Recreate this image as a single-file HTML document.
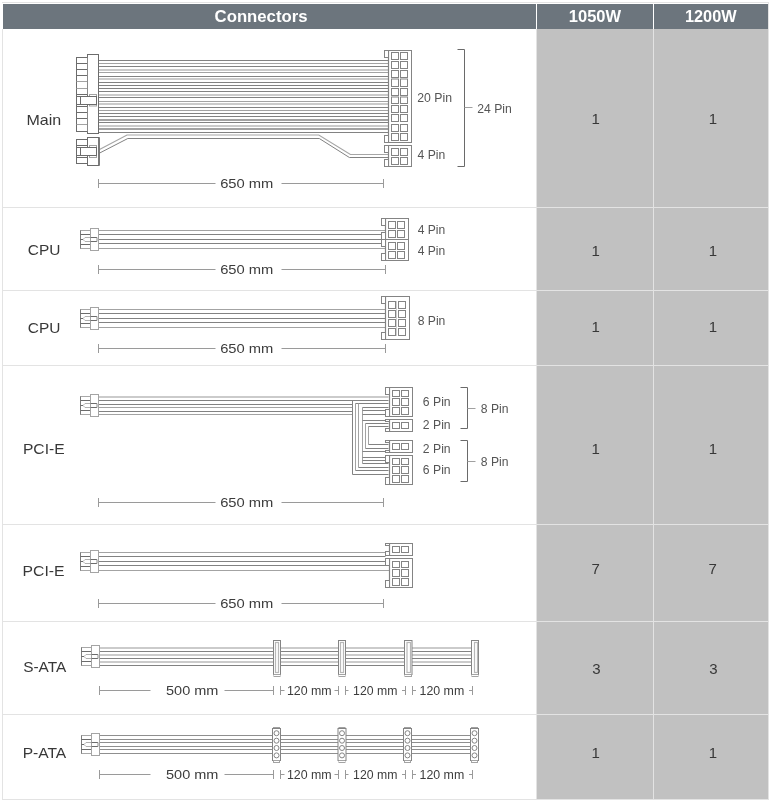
<!DOCTYPE html>
<html><head><meta charset="utf-8"><style>
html,body{margin:0;padding:0;background:#fff;}
svg{display:block;font-family:"Liberation Sans",sans-serif;will-change:transform;}
</style></head><body>
<svg width="772" height="804" viewBox="0 0 772 804">
<rect x="0" y="0" width="772" height="804" fill="#ffffff"/>
<rect x="3" y="4" width="533" height="25" fill="#6c757d"/>
<rect x="537" y="4" width="116" height="25" fill="#6c757d"/>
<rect x="654" y="4" width="114" height="25" fill="#6c757d"/>
<rect x="537" y="29" width="116" height="770" fill="#c1c1c1"/>
<rect x="654" y="29" width="114" height="770" fill="#c1c1c1"/>
<rect x="2" y="2" width="767" height="1" fill="#e3e3e3"/>
<rect x="2" y="207" width="767" height="1" fill="#e3e3e3"/>
<rect x="2" y="290" width="767" height="1" fill="#e3e3e3"/>
<rect x="2" y="365" width="767" height="1" fill="#e3e3e3"/>
<rect x="2" y="524" width="767" height="1" fill="#e3e3e3"/>
<rect x="2" y="621" width="767" height="1" fill="#e3e3e3"/>
<rect x="2" y="714" width="767" height="1" fill="#e3e3e3"/>
<rect x="2" y="799" width="767" height="1" fill="#e3e3e3"/>
<rect x="2" y="29" width="1" height="771" fill="#e3e3e3"/>
<rect x="536" y="29" width="1" height="771" fill="#e3e3e3"/>
<rect x="653" y="29" width="1" height="771" fill="#e3e3e3"/>
<rect x="768" y="2" width="1" height="798" fill="#e3e3e3"/>
<text x="214.62" y="21.5" font-size="16" fill="#ffffff" font-weight="bold" textLength="92.86" lengthAdjust="spacingAndGlyphs">Connectors</text>
<text x="568.87" y="21.5" font-size="16" fill="#ffffff" font-weight="bold" textLength="52.23" lengthAdjust="spacingAndGlyphs">1050W</text>
<text x="684.98" y="21.5" font-size="16" fill="#ffffff" font-weight="bold" textLength="51.61" lengthAdjust="spacingAndGlyphs">1200W</text>
<text x="26.52" y="124.8" font-size="15" fill="#383838" textLength="34.71" lengthAdjust="spacingAndGlyphs">Main</text>
<text x="27.83" y="254.8" font-size="15" fill="#383838" textLength="32.63" lengthAdjust="spacingAndGlyphs">CPU</text>
<text x="27.83" y="332.8" font-size="15" fill="#383838" textLength="32.63" lengthAdjust="spacingAndGlyphs">CPU</text>
<text x="22.95" y="453.8" font-size="15" fill="#383838" textLength="41.68" lengthAdjust="spacingAndGlyphs">PCI-E</text>
<text x="22.64" y="575.8" font-size="15" fill="#383838" textLength="41.99" lengthAdjust="spacingAndGlyphs">PCI-E</text>
<text x="23.23" y="671.8" font-size="15" fill="#383838" textLength="43.06" lengthAdjust="spacingAndGlyphs">S-ATA</text>
<text x="22.65" y="758" font-size="15" fill="#383838" textLength="43.64" lengthAdjust="spacingAndGlyphs">P-ATA</text>
<text x="591.38" y="124.1" font-size="15" fill="#383838">1</text>
<text x="708.67" y="124.1" font-size="15" fill="#383838">1</text>
<text x="591.38" y="255.8" font-size="15" fill="#383838">1</text>
<text x="708.67" y="255.8" font-size="15" fill="#383838">1</text>
<text x="591.38" y="332.1" font-size="15" fill="#383838">1</text>
<text x="708.67" y="332.1" font-size="15" fill="#383838">1</text>
<text x="591.38" y="453.6" font-size="15" fill="#383838">1</text>
<text x="708.67" y="453.6" font-size="15" fill="#383838">1</text>
<text x="591.42" y="574.1" font-size="15" fill="#383838">7</text>
<text x="708.42" y="574.1" font-size="15" fill="#383838">7</text>
<text x="592.27" y="673.6" font-size="15" fill="#383838">3</text>
<text x="709.28" y="673.6" font-size="15" fill="#383838">3</text>
<text x="591.38" y="757.6" font-size="15" fill="#383838">1</text>
<text x="708.67" y="757.6" font-size="15" fill="#383838">1</text>
<line x1="98.5" y1="60.5" x2="388.5" y2="60.5" stroke="#828282" stroke-width="1"/>
<line x1="98.5" y1="63.5" x2="388.5" y2="63.5" stroke="#a3a3a3" stroke-width="1"/>
<line x1="98.5" y1="66.5" x2="388.5" y2="66.5" stroke="#828282" stroke-width="1"/>
<line x1="98.5" y1="70" x2="388.5" y2="70" stroke="#cbcbcb" stroke-width="2"/>
<line x1="98.5" y1="72.5" x2="388.5" y2="72.5" stroke="#a3a3a3" stroke-width="1"/>
<line x1="98.5" y1="76.5" x2="388.5" y2="76.5" stroke="#828282" stroke-width="1"/>
<line x1="98.5" y1="79" x2="388.5" y2="79" stroke="#cbcbcb" stroke-width="2"/>
<line x1="98.5" y1="82.5" x2="388.5" y2="82.5" stroke="#828282" stroke-width="1"/>
<line x1="98.5" y1="85.5" x2="388.5" y2="85.5" stroke="#828282" stroke-width="1"/>
<line x1="98.5" y1="88.5" x2="388.5" y2="88.5" stroke="#828282" stroke-width="1"/>
<line x1="98.5" y1="91.5" x2="388.5" y2="91.5" stroke="#828282" stroke-width="1"/>
<line x1="98.5" y1="95" x2="388.5" y2="95" stroke="#cbcbcb" stroke-width="2"/>
<line x1="98.5" y1="97.5" x2="388.5" y2="97.5" stroke="#828282" stroke-width="1"/>
<line x1="98.5" y1="101.5" x2="388.5" y2="101.5" stroke="#a3a3a3" stroke-width="1"/>
<line x1="98.5" y1="104" x2="388.5" y2="104" stroke="#cbcbcb" stroke-width="2"/>
<line x1="98.5" y1="107.5" x2="388.5" y2="107.5" stroke="#828282" stroke-width="1"/>
<line x1="98.5" y1="110.5" x2="388.5" y2="110.5" stroke="#a3a3a3" stroke-width="1"/>
<line x1="98.5" y1="113.5" x2="388.5" y2="113.5" stroke="#828282" stroke-width="1"/>
<line x1="98.5" y1="116.5" x2="388.5" y2="116.5" stroke="#828282" stroke-width="1"/>
<line x1="98.5" y1="120" x2="388.5" y2="120" stroke="#a3a3a3" stroke-width="2"/>
<line x1="98.5" y1="122.5" x2="388.5" y2="122.5" stroke="#828282" stroke-width="1"/>
<line x1="98.5" y1="126" x2="388.5" y2="126" stroke="#cbcbcb" stroke-width="2"/>
<line x1="98.5" y1="129" x2="388.5" y2="129" stroke="#a3a3a3" stroke-width="2"/>
<line x1="98.5" y1="132.5" x2="388.5" y2="132.5" stroke="#828282" stroke-width="1"/>
<polyline points="99.5,149.5 127,135 318.8,135 350.4,154.5 388.5,154.5" fill="none" stroke="#a6a6a6" stroke-width="1.2"/>
<polyline points="99.5,153.1 127.8,138.5 319.3,138.5 349.4,157.5 388.5,157.5" fill="none" stroke="#828282" stroke-width="1"/>
<rect x="76.5" y="57.5" width="11" height="74" fill="#ffffff" stroke="#6c6c6c" stroke-width="1"/>
<line x1="76.5" y1="63.5" x2="87.5" y2="63.5" stroke="#6c6c6c" stroke-width="1"/>
<line x1="76.5" y1="69.5" x2="87.5" y2="69.5" stroke="#6c6c6c" stroke-width="1"/>
<line x1="76.5" y1="75.5" x2="87.5" y2="75.5" stroke="#6c6c6c" stroke-width="1"/>
<line x1="76.5" y1="81.5" x2="87.5" y2="81.5" stroke="#a3a3a3" stroke-width="1"/>
<line x1="76.5" y1="88.5" x2="87.5" y2="88.5" stroke="#a3a3a3" stroke-width="1"/>
<line x1="76.5" y1="94.5" x2="87.5" y2="94.5" stroke="#6c6c6c" stroke-width="1"/>
<line x1="76.5" y1="106.5" x2="87.5" y2="106.5" stroke="#6c6c6c" stroke-width="1"/>
<line x1="76.5" y1="112.5" x2="87.5" y2="112.5" stroke="#6c6c6c" stroke-width="1"/>
<line x1="76.5" y1="118.5" x2="87.5" y2="118.5" stroke="#6c6c6c" stroke-width="1"/>
<line x1="76.5" y1="124.5" x2="87.5" y2="124.5" stroke="#a3a3a3" stroke-width="1"/>
<rect x="87.5" y="54.5" width="11" height="79" fill="#ffffff" stroke="#6c6c6c" stroke-width="1"/>
<rect x="89.5" y="94.5" width="7" height="2" fill="#ffffff" stroke="#a3a3a3" stroke-width="1"/>
<rect x="89.5" y="104.5" width="7" height="1.5" fill="#ffffff" stroke="#a3a3a3" stroke-width="1"/>
<rect x="76.5" y="96.5" width="20" height="8" fill="#ffffff" stroke="#6c6c6c" stroke-width="1"/>
<line x1="80.5" y1="96.5" x2="80.5" y2="104.5" stroke="#6c6c6c" stroke-width="1"/>
<line x1="87.5" y1="57.5" x2="87.5" y2="94.5" stroke="#8a8a8a" stroke-width="1"/>
<line x1="87.5" y1="106.5" x2="87.5" y2="131.5" stroke="#8a8a8a" stroke-width="1"/>
<rect x="76.5" y="139.5" width="11" height="24" fill="#ffffff" stroke="#6c6c6c" stroke-width="1"/>
<line x1="76.5" y1="145.5" x2="87.5" y2="145.5" stroke="#6c6c6c" stroke-width="1"/>
<line x1="76.5" y1="157.5" x2="87.5" y2="157.5" stroke="#6c6c6c" stroke-width="1"/>
<rect x="87.5" y="137.5" width="11.5" height="28" fill="#ffffff" stroke="#6c6c6c" stroke-width="1"/>
<line x1="99" y1="137.5" x2="99" y2="165.5" stroke="#6c6c6c" stroke-width="1.6"/>
<rect x="89.5" y="145.5" width="7" height="2" fill="#ffffff" stroke="#a3a3a3" stroke-width="1"/>
<rect x="89.5" y="155.5" width="7" height="2" fill="#ffffff" stroke="#a3a3a3" stroke-width="1"/>
<rect x="76.5" y="147.5" width="20" height="8" fill="#ffffff" stroke="#6c6c6c" stroke-width="1"/>
<line x1="80.5" y1="147.5" x2="80.5" y2="155.5" stroke="#6c6c6c" stroke-width="1"/>
<rect x="388.5" y="50.5" width="23" height="92" fill="#ffffff" stroke="#848484" stroke-width="1"/>
<line x1="388.5" y1="50.5" x2="388.5" y2="142.5" stroke="#828282" stroke-width="1.2"/>
<rect x="384.5" y="50.5" width="4" height="7" fill="#ffffff" stroke="#848484" stroke-width="1"/>
<rect x="384.5" y="135.5" width="4" height="7" fill="#ffffff" stroke="#848484" stroke-width="1"/>
<rect x="391.5" y="52.5" width="7" height="7" fill="none" stroke="#848484" stroke-width="1"/>
<rect x="391.5" y="61.5" width="7" height="7" fill="none" stroke="#848484" stroke-width="1"/>
<rect x="391.5" y="70.5" width="7" height="7" fill="none" stroke="#848484" stroke-width="1"/>
<rect x="391.5" y="79" width="7" height="7.5" fill="none" stroke="#848484" stroke-width="1"/>
<rect x="391.5" y="88.5" width="7" height="7" fill="none" stroke="#848484" stroke-width="1"/>
<rect x="391.5" y="97" width="7" height="6.5" fill="none" stroke="#848484" stroke-width="1"/>
<rect x="391.5" y="105.5" width="7" height="7" fill="none" stroke="#848484" stroke-width="1"/>
<rect x="391.5" y="114.5" width="7" height="7" fill="none" stroke="#848484" stroke-width="1"/>
<rect x="391.5" y="124.5" width="7" height="7" fill="none" stroke="#848484" stroke-width="1"/>
<rect x="391.5" y="133.5" width="7" height="7" fill="none" stroke="#848484" stroke-width="1"/>
<rect x="400.5" y="52.5" width="7" height="7" fill="none" stroke="#848484" stroke-width="1"/>
<rect x="400.5" y="61.5" width="7" height="7" fill="none" stroke="#848484" stroke-width="1"/>
<rect x="400.5" y="70.5" width="7" height="7" fill="none" stroke="#848484" stroke-width="1"/>
<rect x="400.5" y="79" width="7" height="7.5" fill="none" stroke="#848484" stroke-width="1"/>
<rect x="400.5" y="88.5" width="7" height="7" fill="none" stroke="#848484" stroke-width="1"/>
<rect x="400.5" y="97" width="7" height="6.5" fill="none" stroke="#848484" stroke-width="1"/>
<rect x="400.5" y="105.5" width="7" height="7" fill="none" stroke="#848484" stroke-width="1"/>
<rect x="400.5" y="114.5" width="7" height="7" fill="none" stroke="#848484" stroke-width="1"/>
<rect x="400.5" y="124.5" width="7" height="7" fill="none" stroke="#848484" stroke-width="1"/>
<rect x="400.5" y="133.5" width="7" height="7" fill="none" stroke="#848484" stroke-width="1"/>
<rect x="388.5" y="145.5" width="23" height="21" fill="#ffffff" stroke="#848484" stroke-width="1"/>
<line x1="388.5" y1="145.5" x2="388.5" y2="166.5" stroke="#828282" stroke-width="1.2"/>
<rect x="384.5" y="145.5" width="4" height="7" fill="#ffffff" stroke="#848484" stroke-width="1"/>
<rect x="384.5" y="159.5" width="4" height="7" fill="#ffffff" stroke="#848484" stroke-width="1"/>
<rect x="391.5" y="148.5" width="7" height="7" fill="none" stroke="#848484" stroke-width="1"/>
<rect x="391.5" y="157.5" width="7" height="7" fill="none" stroke="#848484" stroke-width="1"/>
<rect x="400.5" y="148.5" width="7" height="7" fill="none" stroke="#848484" stroke-width="1"/>
<rect x="400.5" y="157.5" width="7" height="7" fill="none" stroke="#848484" stroke-width="1"/>
<text x="417.19" y="101.9" font-size="12" fill="#555555" textLength="34.81" lengthAdjust="spacingAndGlyphs">20 Pin</text>
<text x="417.55" y="158.9" font-size="12" fill="#555555" textLength="27.72" lengthAdjust="spacingAndGlyphs">4 Pin</text>
<text x="477.19" y="112.8" font-size="12" fill="#555555" textLength="34.6" lengthAdjust="spacingAndGlyphs">24 Pin</text>
<polyline points="457.5,49.5 464.5,49.5 464.5,166.5 457.5,166.5" fill="none" stroke="#6a6a6a" stroke-width="1"/>
<line x1="464.5" y1="107.5" x2="472.5" y2="107.5" stroke="#a0a0a0" stroke-width="1"/>
<line x1="98.5" y1="183.5" x2="215.5" y2="183.5" stroke="#9a9a9a" stroke-width="1"/>
<line x1="281.5" y1="183.5" x2="383.5" y2="183.5" stroke="#9a9a9a" stroke-width="1"/>
<line x1="98.5" y1="179" x2="98.5" y2="188" stroke="#9a9a9a" stroke-width="1"/>
<line x1="383.5" y1="179" x2="383.5" y2="188" stroke="#9a9a9a" stroke-width="1"/>
<text x="220.16" y="187.7" font-size="13" fill="#3c3c3c" textLength="53.25" lengthAdjust="spacingAndGlyphs">650 mm</text>
<line x1="98.5" y1="230.5" x2="385.5" y2="230.5" stroke="#a3a3a3" stroke-width="1"/>
<line x1="98.5" y1="234.5" x2="385.5" y2="234.5" stroke="#828282" stroke-width="1"/>
<line x1="98.5" y1="239.5" x2="385.5" y2="239.5" stroke="#828282" stroke-width="1"/>
<line x1="98.5" y1="243.5" x2="385.5" y2="243.5" stroke="#828282" stroke-width="1"/>
<line x1="98.5" y1="248.5" x2="385.5" y2="248.5" stroke="#a3a3a3" stroke-width="1"/>
<rect x="80.5" y="230.5" width="10" height="18" fill="#ffffff" stroke="#a8a8a8" stroke-width="1"/>
<line x1="80.5" y1="230.5" x2="80.5" y2="248.5" stroke="#7c7c7c" stroke-width="1"/>
<line x1="80.5" y1="234.5" x2="90.5" y2="234.5" stroke="#6c6c6c" stroke-width="1"/>
<line x1="80.5" y1="244.5" x2="90.5" y2="244.5" stroke="#6c6c6c" stroke-width="1"/>
<rect x="90.5" y="228.5" width="8" height="22" fill="#ffffff" stroke="#a4a4a4" stroke-width="1"/>
<polyline points="90.5,237.5 85,237.5 83,239.5 85,241.5 90.5,241.5" fill="none" stroke="#b0b0b0" stroke-width="1"/>
<line x1="90.5" y1="237.5" x2="97" y2="237.5" stroke="#6c6c6c" stroke-width="1"/>
<line x1="90.5" y1="241.5" x2="97" y2="241.5" stroke="#6c6c6c" stroke-width="1"/>
<line x1="97" y1="237.5" x2="97" y2="241.5" stroke="#a0a0a0" stroke-width="1.2"/>
<line x1="80.5" y1="239.5" x2="83" y2="239.5" stroke="#6c6c6c" stroke-width="1"/>
<rect x="385.5" y="218.5" width="23" height="42" fill="#ffffff" stroke="#848484" stroke-width="1"/>
<line x1="385.5" y1="218.5" x2="385.5" y2="260.5" stroke="#828282" stroke-width="1.2"/>
<rect x="381.5" y="218.5" width="4" height="7" fill="#ffffff" stroke="#848484" stroke-width="1"/>
<rect x="381.5" y="232.5" width="4" height="7" fill="#ffffff" stroke="#848484" stroke-width="1"/>
<rect x="381.5" y="239.5" width="4" height="7" fill="#ffffff" stroke="#848484" stroke-width="1"/>
<rect x="381.5" y="253.5" width="4" height="7" fill="#ffffff" stroke="#848484" stroke-width="1"/>
<rect x="388.5" y="221.5" width="7" height="7" fill="none" stroke="#848484" stroke-width="1"/>
<rect x="388.5" y="230.5" width="7" height="7" fill="none" stroke="#848484" stroke-width="1"/>
<rect x="388.5" y="242.5" width="7" height="7" fill="none" stroke="#848484" stroke-width="1"/>
<rect x="388.5" y="251.5" width="7" height="7" fill="none" stroke="#848484" stroke-width="1"/>
<rect x="397.5" y="221.5" width="7" height="7" fill="none" stroke="#848484" stroke-width="1"/>
<rect x="397.5" y="230.5" width="7" height="7" fill="none" stroke="#848484" stroke-width="1"/>
<rect x="397.5" y="242.5" width="7" height="7" fill="none" stroke="#848484" stroke-width="1"/>
<rect x="397.5" y="251.5" width="7" height="7" fill="none" stroke="#848484" stroke-width="1"/>
<line x1="385.5" y1="239.5" x2="408.5" y2="239.5" stroke="#848484" stroke-width="1"/>
<text x="417.65" y="234" font-size="12" fill="#555555" textLength="27.51" lengthAdjust="spacingAndGlyphs">4 Pin</text>
<text x="417.65" y="255.1" font-size="12" fill="#555555" textLength="27.51" lengthAdjust="spacingAndGlyphs">4 Pin</text>
<line x1="98.5" y1="269.5" x2="215.5" y2="269.5" stroke="#9a9a9a" stroke-width="1"/>
<line x1="281.5" y1="269.5" x2="385.5" y2="269.5" stroke="#9a9a9a" stroke-width="1"/>
<line x1="98.5" y1="265" x2="98.5" y2="274" stroke="#9a9a9a" stroke-width="1"/>
<line x1="385.5" y1="265" x2="385.5" y2="274" stroke="#9a9a9a" stroke-width="1"/>
<text x="220.16" y="273.8" font-size="13" fill="#3c3c3c" textLength="53.25" lengthAdjust="spacingAndGlyphs">650 mm</text>
<line x1="98.5" y1="309.5" x2="385.5" y2="309.5" stroke="#a3a3a3" stroke-width="1"/>
<line x1="98.5" y1="313.5" x2="385.5" y2="313.5" stroke="#828282" stroke-width="1"/>
<line x1="98.5" y1="318.5" x2="385.5" y2="318.5" stroke="#828282" stroke-width="1"/>
<line x1="98.5" y1="322.5" x2="385.5" y2="322.5" stroke="#828282" stroke-width="1"/>
<line x1="98.5" y1="327.5" x2="385.5" y2="327.5" stroke="#a3a3a3" stroke-width="1"/>
<rect x="80.5" y="309.5" width="10" height="18" fill="#ffffff" stroke="#a8a8a8" stroke-width="1"/>
<line x1="80.5" y1="309.5" x2="80.5" y2="327.5" stroke="#7c7c7c" stroke-width="1"/>
<line x1="80.5" y1="313.5" x2="90.5" y2="313.5" stroke="#6c6c6c" stroke-width="1"/>
<line x1="80.5" y1="323.5" x2="90.5" y2="323.5" stroke="#6c6c6c" stroke-width="1"/>
<rect x="90.5" y="307.5" width="8" height="22" fill="#ffffff" stroke="#a4a4a4" stroke-width="1"/>
<polyline points="90.5,316.5 85,316.5 83,318.5 85,320.5 90.5,320.5" fill="none" stroke="#b0b0b0" stroke-width="1"/>
<line x1="90.5" y1="316.5" x2="97" y2="316.5" stroke="#6c6c6c" stroke-width="1"/>
<line x1="90.5" y1="320.5" x2="97" y2="320.5" stroke="#6c6c6c" stroke-width="1"/>
<line x1="97" y1="316.5" x2="97" y2="320.5" stroke="#a0a0a0" stroke-width="1.2"/>
<line x1="80.5" y1="318.5" x2="83" y2="318.5" stroke="#6c6c6c" stroke-width="1"/>
<rect x="385.5" y="296.5" width="24" height="43" fill="#ffffff" stroke="#848484" stroke-width="1"/>
<line x1="385.5" y1="296.5" x2="385.5" y2="339.5" stroke="#828282" stroke-width="1.2"/>
<rect x="381.5" y="296.5" width="4" height="7" fill="#ffffff" stroke="#848484" stroke-width="1"/>
<rect x="381.5" y="332.5" width="4" height="7" fill="#ffffff" stroke="#848484" stroke-width="1"/>
<rect x="388.5" y="301.5" width="7" height="7" fill="none" stroke="#848484" stroke-width="1"/>
<rect x="388.5" y="310.5" width="7" height="7" fill="none" stroke="#848484" stroke-width="1"/>
<rect x="388.5" y="319.5" width="7" height="7" fill="none" stroke="#848484" stroke-width="1"/>
<rect x="388.5" y="328.5" width="7" height="7" fill="none" stroke="#848484" stroke-width="1"/>
<rect x="398.5" y="301.5" width="7" height="7" fill="none" stroke="#848484" stroke-width="1"/>
<rect x="398.5" y="310.5" width="7" height="7" fill="none" stroke="#848484" stroke-width="1"/>
<rect x="398.5" y="319.5" width="7" height="7" fill="none" stroke="#848484" stroke-width="1"/>
<rect x="398.5" y="328.5" width="7" height="7" fill="none" stroke="#848484" stroke-width="1"/>
<line x1="396.5" y1="301" x2="396.5" y2="336" stroke="#d0d0d0" stroke-width="1"/>
<text x="417.69" y="324.7" font-size="12" fill="#555555" textLength="27.67" lengthAdjust="spacingAndGlyphs">8 Pin</text>
<line x1="98.5" y1="348.5" x2="215.5" y2="348.5" stroke="#9a9a9a" stroke-width="1"/>
<line x1="281.5" y1="348.5" x2="385.5" y2="348.5" stroke="#9a9a9a" stroke-width="1"/>
<line x1="98.5" y1="344" x2="98.5" y2="353" stroke="#9a9a9a" stroke-width="1"/>
<line x1="385.5" y1="344" x2="385.5" y2="353" stroke="#9a9a9a" stroke-width="1"/>
<text x="220.16" y="352.6" font-size="13" fill="#3c3c3c" textLength="53.25" lengthAdjust="spacingAndGlyphs">650 mm</text>
<line x1="98.5" y1="397" x2="388.5" y2="397" stroke="#cbcbcb" stroke-width="2"/>
<line x1="98.5" y1="400.5" x2="388.5" y2="400.5" stroke="#828282" stroke-width="1"/>
<line x1="98.5" y1="404.5" x2="352.5" y2="404.5" stroke="#828282" stroke-width="1"/>
<line x1="98.5" y1="407.5" x2="352.5" y2="407.5" stroke="#a3a3a3" stroke-width="1"/>
<line x1="98.5" y1="411.5" x2="352.5" y2="411.5" stroke="#828282" stroke-width="1"/>
<line x1="98.5" y1="414.5" x2="352.5" y2="414.5" stroke="#a3a3a3" stroke-width="1"/>
<rect x="80.5" y="396.5" width="10" height="18" fill="#ffffff" stroke="#a8a8a8" stroke-width="1"/>
<line x1="80.5" y1="396.5" x2="80.5" y2="414.5" stroke="#7c7c7c" stroke-width="1"/>
<line x1="80.5" y1="400.5" x2="90.5" y2="400.5" stroke="#6c6c6c" stroke-width="1"/>
<line x1="80.5" y1="410.5" x2="90.5" y2="410.5" stroke="#6c6c6c" stroke-width="1"/>
<rect x="90.5" y="394.5" width="8" height="22" fill="#ffffff" stroke="#a4a4a4" stroke-width="1"/>
<polyline points="90.5,403.5 85,403.5 83,405.5 85,407.5 90.5,407.5" fill="none" stroke="#b0b0b0" stroke-width="1"/>
<line x1="90.5" y1="403.5" x2="97" y2="403.5" stroke="#6c6c6c" stroke-width="1"/>
<line x1="90.5" y1="407.5" x2="97" y2="407.5" stroke="#6c6c6c" stroke-width="1"/>
<line x1="97" y1="403.5" x2="97" y2="407.5" stroke="#a0a0a0" stroke-width="1.2"/>
<line x1="80.5" y1="405.5" x2="83" y2="405.5" stroke="#6c6c6c" stroke-width="1"/>
<line x1="352.5" y1="400.5" x2="352.5" y2="474.5" stroke="#828282" stroke-width="1"/>
<line x1="352.5" y1="474.5" x2="388.5" y2="474.5" stroke="#828282" stroke-width="1"/>
<line x1="355.5" y1="403.5" x2="355.5" y2="470.5" stroke="#a3a3a3" stroke-width="1"/>
<line x1="355.5" y1="403.5" x2="388.5" y2="403.5" stroke="#828282" stroke-width="1"/>
<line x1="355.5" y1="470.5" x2="388.5" y2="470.5" stroke="#828282" stroke-width="1"/>
<line x1="358.5" y1="403.5" x2="358.5" y2="467.5" stroke="#a3a3a3" stroke-width="1"/>
<line x1="358.5" y1="467.5" x2="388.5" y2="467.5" stroke="#828282" stroke-width="1"/>
<line x1="362.5" y1="407.5" x2="362.5" y2="463.5" stroke="#a3a3a3" stroke-width="1"/>
<line x1="362.5" y1="407.5" x2="388.5" y2="407.5" stroke="#828282" stroke-width="1"/>
<line x1="362.5" y1="410.5" x2="388.5" y2="410.5" stroke="#828282" stroke-width="1"/>
<line x1="362.5" y1="414.5" x2="388.5" y2="414.5" stroke="#828282" stroke-width="1"/>
<line x1="362.5" y1="420.5" x2="388.5" y2="420.5" stroke="#828282" stroke-width="1"/>
<line x1="362.5" y1="451.5" x2="388.5" y2="451.5" stroke="#828282" stroke-width="1"/>
<line x1="362.5" y1="457.5" x2="388.5" y2="457.5" stroke="#828282" stroke-width="1"/>
<line x1="362.5" y1="460.5" x2="388.5" y2="460.5" stroke="#828282" stroke-width="1"/>
<line x1="362.5" y1="463.5" x2="388.5" y2="463.5" stroke="#828282" stroke-width="1"/>
<line x1="365.5" y1="423.5" x2="365.5" y2="448.5" stroke="#a3a3a3" stroke-width="1"/>
<line x1="365.5" y1="423.5" x2="388.5" y2="423.5" stroke="#828282" stroke-width="1"/>
<line x1="365.5" y1="448.5" x2="388.5" y2="448.5" stroke="#828282" stroke-width="1"/>
<line x1="368.5" y1="426.5" x2="368.5" y2="444.5" stroke="#a3a3a3" stroke-width="1"/>
<line x1="368.5" y1="426.5" x2="388.5" y2="426.5" stroke="#828282" stroke-width="1"/>
<line x1="368.5" y1="444.5" x2="388.5" y2="444.5" stroke="#828282" stroke-width="1"/>
<rect x="389.5" y="387.5" width="23" height="29" fill="#ffffff" stroke="#848484" stroke-width="1"/>
<line x1="389.5" y1="387.5" x2="389.5" y2="416.5" stroke="#828282" stroke-width="1.2"/>
<rect x="385.5" y="387.5" width="4" height="7" fill="#ffffff" stroke="#848484" stroke-width="1"/>
<rect x="385.5" y="409.5" width="4" height="7" fill="#ffffff" stroke="#848484" stroke-width="1"/>
<rect x="392.5" y="390.5" width="7" height="6" fill="none" stroke="#848484" stroke-width="1"/>
<rect x="392.5" y="398.5" width="7" height="7" fill="none" stroke="#848484" stroke-width="1"/>
<rect x="392.5" y="407.5" width="7" height="7" fill="none" stroke="#848484" stroke-width="1"/>
<rect x="401.5" y="390.5" width="7" height="6" fill="none" stroke="#848484" stroke-width="1"/>
<rect x="401.5" y="398.5" width="7" height="7" fill="none" stroke="#848484" stroke-width="1"/>
<rect x="401.5" y="407.5" width="7" height="7" fill="none" stroke="#848484" stroke-width="1"/>
<rect x="389.5" y="419.5" width="23" height="12" fill="#ffffff" stroke="#848484" stroke-width="1"/>
<line x1="389.5" y1="419.5" x2="389.5" y2="431.5" stroke="#828282" stroke-width="1.2"/>
<rect x="385.5" y="419.5" width="4" height="2" fill="#ffffff" stroke="#848484" stroke-width="1"/>
<rect x="385.5" y="428.5" width="4" height="3" fill="#ffffff" stroke="#848484" stroke-width="1"/>
<rect x="392.5" y="422.5" width="7" height="6" fill="none" stroke="#848484" stroke-width="1"/>
<rect x="401.5" y="422.5" width="7" height="6" fill="none" stroke="#848484" stroke-width="1"/>
<rect x="389.5" y="440.5" width="23" height="12" fill="#ffffff" stroke="#848484" stroke-width="1"/>
<line x1="389.5" y1="440.5" x2="389.5" y2="452.5" stroke="#828282" stroke-width="1.2"/>
<rect x="385.5" y="440.5" width="4" height="2" fill="#ffffff" stroke="#848484" stroke-width="1"/>
<rect x="385.5" y="450.5" width="4" height="2" fill="#ffffff" stroke="#848484" stroke-width="1"/>
<rect x="392.5" y="443.5" width="7" height="6" fill="none" stroke="#848484" stroke-width="1"/>
<rect x="401.5" y="443.5" width="7" height="6" fill="none" stroke="#848484" stroke-width="1"/>
<rect x="389.5" y="455.5" width="23" height="29" fill="#ffffff" stroke="#848484" stroke-width="1"/>
<line x1="389.5" y1="455.5" x2="389.5" y2="484.5" stroke="#828282" stroke-width="1.2"/>
<rect x="385.5" y="455.5" width="4" height="7" fill="#ffffff" stroke="#848484" stroke-width="1"/>
<rect x="385.5" y="477.5" width="4" height="7" fill="#ffffff" stroke="#848484" stroke-width="1"/>
<rect x="392.5" y="458.5" width="7" height="6" fill="none" stroke="#848484" stroke-width="1"/>
<rect x="392.5" y="466.5" width="7" height="7" fill="none" stroke="#848484" stroke-width="1"/>
<rect x="392.5" y="475.5" width="7" height="7" fill="none" stroke="#848484" stroke-width="1"/>
<rect x="401.5" y="458.5" width="7" height="6" fill="none" stroke="#848484" stroke-width="1"/>
<rect x="401.5" y="466.5" width="7" height="7" fill="none" stroke="#848484" stroke-width="1"/>
<rect x="401.5" y="475.5" width="7" height="7" fill="none" stroke="#848484" stroke-width="1"/>
<text x="422.89" y="406" font-size="12" fill="#555555" textLength="27.77" lengthAdjust="spacingAndGlyphs">6 Pin</text>
<text x="422.89" y="429" font-size="12" fill="#555555" textLength="27.77" lengthAdjust="spacingAndGlyphs">2 Pin</text>
<text x="422.89" y="452.8" font-size="12" fill="#555555" textLength="27.77" lengthAdjust="spacingAndGlyphs">2 Pin</text>
<text x="422.89" y="474.1" font-size="12" fill="#555555" textLength="27.77" lengthAdjust="spacingAndGlyphs">6 Pin</text>
<polyline points="460.5,387.5 467.5,387.5 467.5,428.5 460.5,428.5" fill="none" stroke="#6a6a6a" stroke-width="1"/>
<line x1="467.5" y1="408.5" x2="475.5" y2="408.5" stroke="#a0a0a0" stroke-width="1"/>
<polyline points="460.5,440.5 467.5,440.5 467.5,481.5 460.5,481.5" fill="none" stroke="#6a6a6a" stroke-width="1"/>
<line x1="467.5" y1="461.5" x2="475.5" y2="461.5" stroke="#a0a0a0" stroke-width="1"/>
<text x="480.79" y="412.8" font-size="12" fill="#555555" textLength="27.67" lengthAdjust="spacingAndGlyphs">8 Pin</text>
<text x="480.79" y="465.9" font-size="12" fill="#555555" textLength="27.67" lengthAdjust="spacingAndGlyphs">8 Pin</text>
<line x1="98.5" y1="502.5" x2="215.5" y2="502.5" stroke="#9a9a9a" stroke-width="1"/>
<line x1="281.5" y1="502.5" x2="383.5" y2="502.5" stroke="#9a9a9a" stroke-width="1"/>
<line x1="98.5" y1="498" x2="98.5" y2="507" stroke="#9a9a9a" stroke-width="1"/>
<line x1="383.5" y1="498" x2="383.5" y2="507" stroke="#9a9a9a" stroke-width="1"/>
<text x="220.16" y="506.8" font-size="13" fill="#3c3c3c" textLength="53.25" lengthAdjust="spacingAndGlyphs">650 mm</text>
<line x1="98.5" y1="552.5" x2="385.5" y2="552.5" stroke="#a3a3a3" stroke-width="1"/>
<line x1="98.5" y1="556.5" x2="385.5" y2="556.5" stroke="#828282" stroke-width="1"/>
<line x1="98.5" y1="561.5" x2="385.5" y2="561.5" stroke="#828282" stroke-width="1"/>
<line x1="98.5" y1="565.5" x2="385.5" y2="565.5" stroke="#828282" stroke-width="1"/>
<line x1="98.5" y1="570.5" x2="389.5" y2="570.5" stroke="#a3a3a3" stroke-width="1"/>
<rect x="80.5" y="552.5" width="10" height="18" fill="#ffffff" stroke="#a8a8a8" stroke-width="1"/>
<line x1="80.5" y1="552.5" x2="80.5" y2="570.5" stroke="#7c7c7c" stroke-width="1"/>
<line x1="80.5" y1="556.5" x2="90.5" y2="556.5" stroke="#6c6c6c" stroke-width="1"/>
<line x1="80.5" y1="566.5" x2="90.5" y2="566.5" stroke="#6c6c6c" stroke-width="1"/>
<rect x="90.5" y="550.5" width="8" height="22" fill="#ffffff" stroke="#a4a4a4" stroke-width="1"/>
<polyline points="90.5,559.5 85,559.5 83,561.5 85,563.5 90.5,563.5" fill="none" stroke="#b0b0b0" stroke-width="1"/>
<line x1="90.5" y1="559.5" x2="97" y2="559.5" stroke="#6c6c6c" stroke-width="1"/>
<line x1="90.5" y1="563.5" x2="97" y2="563.5" stroke="#6c6c6c" stroke-width="1"/>
<line x1="97" y1="559.5" x2="97" y2="563.5" stroke="#a0a0a0" stroke-width="1.2"/>
<line x1="80.5" y1="561.5" x2="83" y2="561.5" stroke="#6c6c6c" stroke-width="1"/>
<rect x="389.5" y="543.5" width="23" height="12" fill="#ffffff" stroke="#848484" stroke-width="1"/>
<line x1="389.5" y1="543.5" x2="389.5" y2="555.5" stroke="#828282" stroke-width="1.2"/>
<rect x="385.5" y="543.5" width="4" height="2" fill="#ffffff" stroke="#848484" stroke-width="1"/>
<rect x="385.5" y="551.5" width="4" height="4" fill="#ffffff" stroke="#848484" stroke-width="1"/>
<rect x="392.5" y="546.5" width="7" height="6" fill="none" stroke="#848484" stroke-width="1"/>
<rect x="401.5" y="546.5" width="7" height="6" fill="none" stroke="#848484" stroke-width="1"/>
<rect x="389.5" y="558.5" width="23" height="29" fill="#ffffff" stroke="#848484" stroke-width="1"/>
<line x1="389.5" y1="558.5" x2="389.5" y2="587.5" stroke="#828282" stroke-width="1.2"/>
<rect x="385.5" y="558.5" width="4" height="7" fill="#ffffff" stroke="#848484" stroke-width="1"/>
<rect x="385.5" y="580.5" width="4" height="7" fill="#ffffff" stroke="#848484" stroke-width="1"/>
<rect x="392.5" y="561.5" width="7" height="6" fill="none" stroke="#848484" stroke-width="1"/>
<rect x="392.5" y="569.5" width="7" height="7" fill="none" stroke="#848484" stroke-width="1"/>
<rect x="392.5" y="578.5" width="7" height="7" fill="none" stroke="#848484" stroke-width="1"/>
<rect x="401.5" y="561.5" width="7" height="6" fill="none" stroke="#848484" stroke-width="1"/>
<rect x="401.5" y="569.5" width="7" height="7" fill="none" stroke="#848484" stroke-width="1"/>
<rect x="401.5" y="578.5" width="7" height="7" fill="none" stroke="#848484" stroke-width="1"/>
<line x1="98.5" y1="603.5" x2="215.5" y2="603.5" stroke="#9a9a9a" stroke-width="1"/>
<line x1="281.5" y1="603.5" x2="383.5" y2="603.5" stroke="#9a9a9a" stroke-width="1"/>
<line x1="98.5" y1="599" x2="98.5" y2="608" stroke="#9a9a9a" stroke-width="1"/>
<line x1="383.5" y1="599" x2="383.5" y2="608" stroke="#9a9a9a" stroke-width="1"/>
<text x="220.16" y="607.6" font-size="13" fill="#3c3c3c" textLength="53.25" lengthAdjust="spacingAndGlyphs">650 mm</text>
<line x1="99.5" y1="648" x2="471.5" y2="648" stroke="#cbcbcb" stroke-width="2"/>
<line x1="99.5" y1="651.5" x2="471.5" y2="651.5" stroke="#828282" stroke-width="1"/>
<line x1="99.5" y1="655" x2="471.5" y2="655" stroke="#cbcbcb" stroke-width="2"/>
<line x1="99.5" y1="658.5" x2="471.5" y2="658.5" stroke="#828282" stroke-width="1"/>
<line x1="99.5" y1="662" x2="471.5" y2="662" stroke="#cbcbcb" stroke-width="2"/>
<line x1="99.5" y1="665.5" x2="471.5" y2="665.5" stroke="#828282" stroke-width="1"/>
<rect x="81.5" y="647.5" width="10" height="18" fill="#ffffff" stroke="#a8a8a8" stroke-width="1"/>
<line x1="81.5" y1="647.5" x2="81.5" y2="665.5" stroke="#7c7c7c" stroke-width="1"/>
<line x1="81.5" y1="651.5" x2="91.5" y2="651.5" stroke="#6c6c6c" stroke-width="1"/>
<line x1="81.5" y1="661.5" x2="91.5" y2="661.5" stroke="#6c6c6c" stroke-width="1"/>
<rect x="91.5" y="645.5" width="8" height="22" fill="#ffffff" stroke="#a4a4a4" stroke-width="1"/>
<polyline points="91.5,654.5 86,654.5 84,656.5 86,658.5 91.5,658.5" fill="none" stroke="#b0b0b0" stroke-width="1"/>
<line x1="91.5" y1="654.5" x2="98" y2="654.5" stroke="#6c6c6c" stroke-width="1"/>
<line x1="91.5" y1="658.5" x2="98" y2="658.5" stroke="#6c6c6c" stroke-width="1"/>
<line x1="98" y1="654.5" x2="98" y2="658.5" stroke="#a0a0a0" stroke-width="1.2"/>
<line x1="81.5" y1="656.5" x2="84" y2="656.5" stroke="#6c6c6c" stroke-width="1"/>
<rect x="273.5" y="640.5" width="7" height="34" fill="#ffffff" stroke="#848484" stroke-width="1"/>
<rect x="275.5" y="642.5" width="3" height="30" fill="#ffffff" stroke="#b8b8b8" stroke-width="1.2"/>
<rect x="274" y="674.5" width="6" height="2" fill="#ffffff" stroke="#a3a3a3" stroke-width="1"/>
<rect x="338.5" y="640.5" width="7" height="34" fill="#ffffff" stroke="#848484" stroke-width="1"/>
<rect x="340.5" y="642.5" width="3" height="30" fill="#ffffff" stroke="#b8b8b8" stroke-width="1.2"/>
<rect x="339" y="674.5" width="6" height="2" fill="#ffffff" stroke="#a3a3a3" stroke-width="1"/>
<rect x="404.5" y="640.5" width="7.5" height="34" fill="#ffffff" stroke="#848484" stroke-width="1"/>
<rect x="407" y="642.5" width="3.5" height="30" fill="#ffffff" stroke="#b8b8b8" stroke-width="1.2"/>
<rect x="405" y="674.5" width="6.5" height="2" fill="#ffffff" stroke="#a3a3a3" stroke-width="1"/>
<rect x="471.5" y="640.5" width="7" height="34" fill="#ffffff" stroke="#848484" stroke-width="1"/>
<rect x="474.5" y="642.5" width="3" height="30" fill="#ffffff" stroke="#b8b8b8" stroke-width="1.2"/>
<rect x="472" y="674.5" width="6" height="2" fill="#ffffff" stroke="#a3a3a3" stroke-width="1"/>
<line x1="99.5" y1="686" x2="99.5" y2="695" stroke="#9a9a9a" stroke-width="1"/>
<line x1="99.5" y1="690.5" x2="150.5" y2="690.5" stroke="#9a9a9a" stroke-width="1"/>
<line x1="224.5" y1="690.5" x2="273.5" y2="690.5" stroke="#9a9a9a" stroke-width="1"/>
<text x="166.04" y="694.8" font-size="13" fill="#3c3c3c" textLength="52.36" lengthAdjust="spacingAndGlyphs">500 mm</text>
<line x1="273.5" y1="686" x2="273.5" y2="695" stroke="#9a9a9a" stroke-width="1"/>
<line x1="280.5" y1="686" x2="280.5" y2="695" stroke="#9a9a9a" stroke-width="1"/>
<line x1="338.5" y1="686" x2="338.5" y2="695" stroke="#9a9a9a" stroke-width="1"/>
<line x1="345.5" y1="686" x2="345.5" y2="695" stroke="#9a9a9a" stroke-width="1"/>
<line x1="405.5" y1="686" x2="405.5" y2="695" stroke="#9a9a9a" stroke-width="1"/>
<line x1="412.5" y1="686" x2="412.5" y2="695" stroke="#9a9a9a" stroke-width="1"/>
<line x1="472.5" y1="686" x2="472.5" y2="695" stroke="#9a9a9a" stroke-width="1"/>
<line x1="280.5" y1="690.5" x2="284.5" y2="690.5" stroke="#9a9a9a" stroke-width="1"/>
<line x1="334.5" y1="690.5" x2="338.5" y2="690.5" stroke="#9a9a9a" stroke-width="1"/>
<line x1="345.5" y1="690.5" x2="348.5" y2="690.5" stroke="#9a9a9a" stroke-width="1"/>
<line x1="402" y1="690.5" x2="405.5" y2="690.5" stroke="#9a9a9a" stroke-width="1"/>
<line x1="412.5" y1="690.5" x2="416" y2="690.5" stroke="#9a9a9a" stroke-width="1"/>
<line x1="469" y1="690.5" x2="472.5" y2="690.5" stroke="#9a9a9a" stroke-width="1"/>
<text x="286.89" y="694.8" font-size="13" fill="#3c3c3c" textLength="44.78" lengthAdjust="spacingAndGlyphs">120 mm</text>
<text x="353.1" y="694.8" font-size="13" fill="#3c3c3c" textLength="44.26" lengthAdjust="spacingAndGlyphs">120 mm</text>
<text x="419.49" y="694.8" font-size="13" fill="#3c3c3c" textLength="44.78" lengthAdjust="spacingAndGlyphs">120 mm</text>
<line x1="99.5" y1="735.5" x2="470.5" y2="735.5" stroke="#8f8f8f" stroke-width="1"/>
<line x1="99.5" y1="739.5" x2="470.5" y2="739.5" stroke="#8f8f8f" stroke-width="1"/>
<line x1="99.5" y1="742.5" x2="470.5" y2="742.5" stroke="#8f8f8f" stroke-width="1"/>
<line x1="99.5" y1="746.5" x2="470.5" y2="746.5" stroke="#8f8f8f" stroke-width="1"/>
<line x1="99.5" y1="749.5" x2="470.5" y2="749.5" stroke="#8f8f8f" stroke-width="1"/>
<line x1="99.5" y1="753.5" x2="470.5" y2="753.5" stroke="#8f8f8f" stroke-width="1"/>
<rect x="81.5" y="735.5" width="10" height="18" fill="#ffffff" stroke="#a8a8a8" stroke-width="1"/>
<line x1="81.5" y1="735.5" x2="81.5" y2="753.5" stroke="#7c7c7c" stroke-width="1"/>
<line x1="81.5" y1="739.5" x2="91.5" y2="739.5" stroke="#6c6c6c" stroke-width="1"/>
<line x1="81.5" y1="749.5" x2="91.5" y2="749.5" stroke="#6c6c6c" stroke-width="1"/>
<rect x="91.5" y="733.5" width="8" height="22" fill="#ffffff" stroke="#a4a4a4" stroke-width="1"/>
<polyline points="91.5,742.5 86,742.5 84,744.5 86,746.5 91.5,746.5" fill="none" stroke="#b0b0b0" stroke-width="1"/>
<line x1="91.5" y1="742.5" x2="98" y2="742.5" stroke="#6c6c6c" stroke-width="1"/>
<line x1="91.5" y1="746.5" x2="98" y2="746.5" stroke="#6c6c6c" stroke-width="1"/>
<line x1="98" y1="742.5" x2="98" y2="746.5" stroke="#a0a0a0" stroke-width="1.2"/>
<line x1="81.5" y1="744.5" x2="84" y2="744.5" stroke="#6c6c6c" stroke-width="1"/>
<rect x="273.5" y="727.5" width="6" height="2" fill="#c8c8c8" stroke="#a0a0a0" stroke-width="1"/>
<rect x="272.5" y="728.5" width="8" height="32" fill="#ffffff" stroke="#848484" stroke-width="1"/>
<circle cx="276.5" cy="733.2" r="2.5" fill="none" stroke="#848484" stroke-width="1"/>
<circle cx="276.5" cy="740.7" r="2.5" fill="none" stroke="#848484" stroke-width="1"/>
<circle cx="276.5" cy="748" r="2.5" fill="none" stroke="#848484" stroke-width="1"/>
<circle cx="276.5" cy="755.4" r="2.5" fill="none" stroke="#848484" stroke-width="1"/>
<rect x="273.5" y="760.5" width="6" height="2" fill="#ffffff" stroke="#a3a3a3" stroke-width="1"/>
<rect x="339" y="727.5" width="6" height="2" fill="#c8c8c8" stroke="#a0a0a0" stroke-width="1"/>
<rect x="338" y="728.5" width="8" height="32" fill="#ffffff" stroke="#848484" stroke-width="1"/>
<circle cx="342" cy="733.2" r="2.5" fill="none" stroke="#848484" stroke-width="1"/>
<circle cx="342" cy="740.7" r="2.5" fill="none" stroke="#848484" stroke-width="1"/>
<circle cx="342" cy="748" r="2.5" fill="none" stroke="#848484" stroke-width="1"/>
<circle cx="342" cy="755.4" r="2.5" fill="none" stroke="#848484" stroke-width="1"/>
<rect x="339" y="760.5" width="6" height="2" fill="#ffffff" stroke="#a3a3a3" stroke-width="1"/>
<rect x="404.5" y="727.5" width="6" height="2" fill="#c8c8c8" stroke="#a0a0a0" stroke-width="1"/>
<rect x="403.5" y="728.5" width="8" height="32" fill="#ffffff" stroke="#848484" stroke-width="1"/>
<circle cx="407.5" cy="733.2" r="2.5" fill="none" stroke="#848484" stroke-width="1"/>
<circle cx="407.5" cy="740.7" r="2.5" fill="none" stroke="#848484" stroke-width="1"/>
<circle cx="407.5" cy="748" r="2.5" fill="none" stroke="#848484" stroke-width="1"/>
<circle cx="407.5" cy="755.4" r="2.5" fill="none" stroke="#848484" stroke-width="1"/>
<rect x="404.5" y="760.5" width="6" height="2" fill="#ffffff" stroke="#a3a3a3" stroke-width="1"/>
<rect x="471.5" y="727.5" width="6" height="2" fill="#c8c8c8" stroke="#a0a0a0" stroke-width="1"/>
<rect x="470.5" y="728.5" width="8" height="32" fill="#ffffff" stroke="#848484" stroke-width="1"/>
<circle cx="474.5" cy="733.2" r="2.5" fill="none" stroke="#848484" stroke-width="1"/>
<circle cx="474.5" cy="740.7" r="2.5" fill="none" stroke="#848484" stroke-width="1"/>
<circle cx="474.5" cy="748" r="2.5" fill="none" stroke="#848484" stroke-width="1"/>
<circle cx="474.5" cy="755.4" r="2.5" fill="none" stroke="#848484" stroke-width="1"/>
<rect x="471.5" y="760.5" width="6" height="2" fill="#ffffff" stroke="#a3a3a3" stroke-width="1"/>
<line x1="99.5" y1="770" x2="99.5" y2="779" stroke="#9a9a9a" stroke-width="1"/>
<line x1="99.5" y1="774.5" x2="150.5" y2="774.5" stroke="#9a9a9a" stroke-width="1"/>
<line x1="224.5" y1="774.5" x2="273.5" y2="774.5" stroke="#9a9a9a" stroke-width="1"/>
<text x="166.04" y="778.8" font-size="13" fill="#3c3c3c" textLength="52.36" lengthAdjust="spacingAndGlyphs">500 mm</text>
<line x1="273.5" y1="770" x2="273.5" y2="779" stroke="#9a9a9a" stroke-width="1"/>
<line x1="280.5" y1="770" x2="280.5" y2="779" stroke="#9a9a9a" stroke-width="1"/>
<line x1="338.5" y1="770" x2="338.5" y2="779" stroke="#9a9a9a" stroke-width="1"/>
<line x1="345.5" y1="770" x2="345.5" y2="779" stroke="#9a9a9a" stroke-width="1"/>
<line x1="405.5" y1="770" x2="405.5" y2="779" stroke="#9a9a9a" stroke-width="1"/>
<line x1="412.5" y1="770" x2="412.5" y2="779" stroke="#9a9a9a" stroke-width="1"/>
<line x1="472.5" y1="770" x2="472.5" y2="779" stroke="#9a9a9a" stroke-width="1"/>
<line x1="280.5" y1="774.5" x2="284.5" y2="774.5" stroke="#9a9a9a" stroke-width="1"/>
<line x1="334.5" y1="774.5" x2="338.5" y2="774.5" stroke="#9a9a9a" stroke-width="1"/>
<line x1="345.5" y1="774.5" x2="348.5" y2="774.5" stroke="#9a9a9a" stroke-width="1"/>
<line x1="402" y1="774.5" x2="405.5" y2="774.5" stroke="#9a9a9a" stroke-width="1"/>
<line x1="412.5" y1="774.5" x2="416" y2="774.5" stroke="#9a9a9a" stroke-width="1"/>
<line x1="469" y1="774.5" x2="472.5" y2="774.5" stroke="#9a9a9a" stroke-width="1"/>
<text x="286.89" y="778.8" font-size="13" fill="#3c3c3c" textLength="44.78" lengthAdjust="spacingAndGlyphs">120 mm</text>
<text x="353.1" y="778.8" font-size="13" fill="#3c3c3c" textLength="44.26" lengthAdjust="spacingAndGlyphs">120 mm</text>
<text x="419.49" y="778.8" font-size="13" fill="#3c3c3c" textLength="44.78" lengthAdjust="spacingAndGlyphs">120 mm</text>
</svg>
</body></html>
